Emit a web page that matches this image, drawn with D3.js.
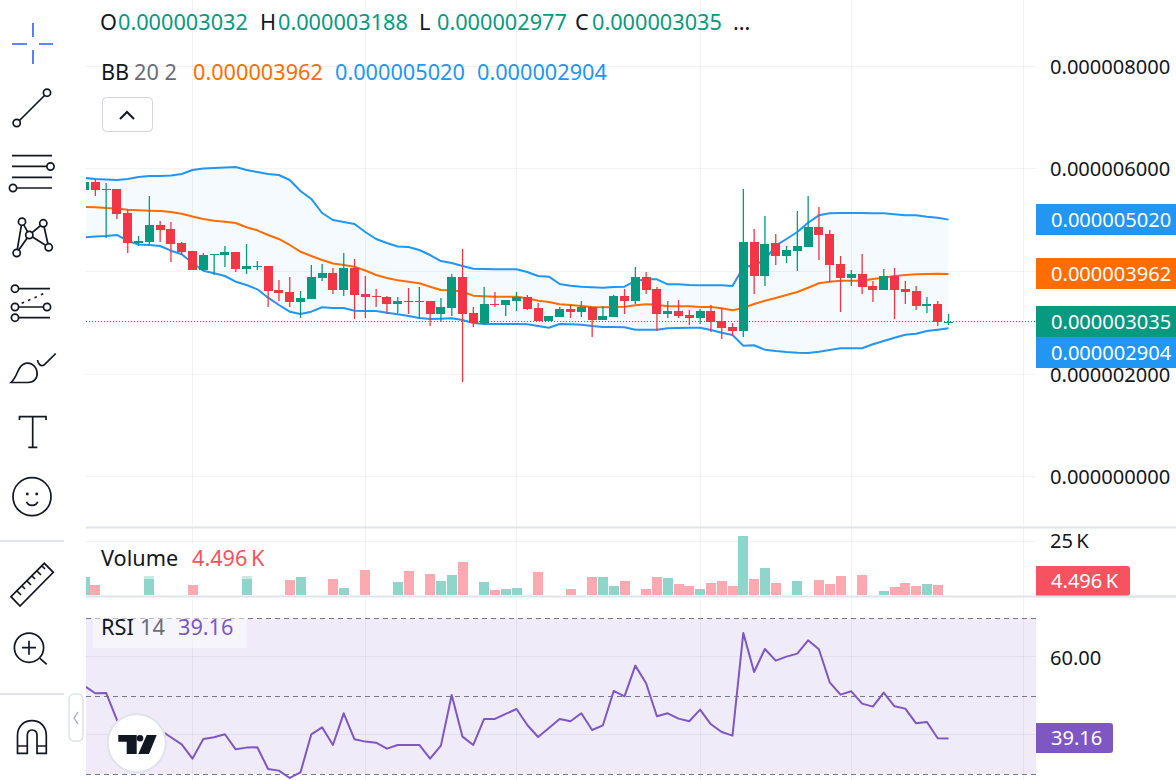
<!DOCTYPE html>
<html>
<head>
<meta charset="utf-8">
<title>Candlestick chart with Bollinger Bands, volume and RSI</title>
<script src="https://cdn.jsdelivr.net/npm/d3@7/dist/d3.min.js"></script>
<style>
  html, body { margin: 0; padding: 0; background: #fff; overflow: hidden; }
  svg { display: block; font-family: "Noto Sans", sans-serif; }
  .tool { fill: none; stroke: #131722; stroke-width: 1.7; }
  .tool-fill { fill: #fff; stroke: #131722; stroke-width: 1.7; }
</style>
</head>
<body>
<svg id="chart" width="1176" height="780"></svg>
<script>
// OHLC prices, in millionths of the quote unit
const opens = [5.597,5.753,5.597,5.616,5.149,4.565,4.584,4.915,4.837,4.565,
  4.409,4.039,4.331,4.331,4.390,4.058,4.097,4.117,3.649,3.610,
  3.416,3.474,3.883,3.981,3.649,4.078,3.572,3.533,3.513,3.377,
  3.435,3.416,3.435,3.182,3.299,3.903,3.202,3.007,3.377,3.357,
  3.435,3.513,3.299,3.046,3.124,3.280,3.221,3.319,3.065,3.124,
  3.533,3.435,3.903,3.669,3.182,3.241,3.163,3.104,3.241,3.046,
  2.929,2.851,4.584,3.922,4.565,4.312,4.409,4.487,4.876,4.740,
  4.156,3.883,3.961,3.727,3.649,3.922,3.669,3.630,3.338,3.377,
  3.032];
const highs = [5.792,5.811,5.733,5.616,5.227,4.701,5.480,4.993,4.974,4.584,
  4.409,4.370,4.351,4.506,4.390,4.545,4.214,4.117,3.844,3.903,
  3.630,4.136,4.156,4.078,4.370,4.253,3.922,3.669,3.533,3.513,
  3.689,3.708,3.435,3.494,3.961,4.448,3.319,3.708,3.610,3.455,
  3.610,3.552,3.396,3.143,3.319,3.357,3.435,3.319,3.338,3.552,
  3.669,4.097,4.000,3.708,3.435,3.455,3.260,3.280,3.357,3.299,
  3.007,5.616,4.837,5.091,4.740,4.506,5.188,5.480,5.266,4.818,
  4.312,4.039,4.351,3.825,4.058,4.078,3.825,3.727,3.513,3.435,
  3.188];
const lows = [5.558,5.480,4.662,5.032,4.370,4.506,4.545,4.584,4.195,4.331,
  4.039,4.020,3.942,4.097,4.000,3.961,4.039,3.319,3.435,3.319,
  3.104,3.474,3.825,3.572,3.533,3.085,3.104,3.319,3.182,3.202,
  3.182,3.104,2.948,3.026,3.143,1.858,2.929,2.968,3.319,3.143,
  3.241,3.260,3.046,3.046,3.124,3.104,3.124,2.734,3.065,3.124,
  3.182,3.377,3.572,2.851,3.104,3.104,2.968,2.987,2.832,2.695,
  2.754,2.734,3.572,3.727,4.136,4.175,4.020,4.487,4.234,3.805,
  3.221,3.727,3.572,3.416,3.649,3.085,3.377,3.260,3.202,2.948,
  2.977];
const closes = [5.753,5.597,5.616,5.130,4.565,4.604,4.915,4.818,4.545,4.390,
  4.039,4.331,4.351,4.390,4.058,4.117,4.117,3.630,3.591,3.416,
  3.494,3.903,3.981,3.649,4.078,3.552,3.513,3.513,3.377,3.435,
  3.416,3.435,3.182,3.319,3.903,3.182,3.007,3.377,3.357,3.455,
  3.513,3.280,3.046,3.143,3.280,3.221,3.319,3.065,3.143,3.533,
  3.435,3.903,3.649,3.182,3.241,3.143,3.104,3.241,3.026,2.909,
  2.851,4.584,3.922,4.545,4.312,4.429,4.506,4.876,4.721,4.136,
  3.883,3.961,3.708,3.649,3.922,3.649,3.610,3.338,3.377,3.026,
  3.035];

// Bollinger Bands (20, 2), same unit as the prices
const bbUpper = [5.831,5.811,5.801,5.792,5.811,5.850,5.870,5.870,5.879,5.909,
  5.986,6.016,6.025,6.035,6.045,5.986,5.947,5.909,5.889,5.792,
  5.577,5.422,5.149,5.013,4.974,4.935,4.779,4.643,4.565,4.497,
  4.487,4.429,4.331,4.214,4.175,4.117,4.064,4.058,4.053,4.053,
  4.053,4.000,3.922,3.909,3.766,3.733,3.714,3.702,3.694,3.708,
  3.714,3.825,3.858,3.858,3.760,3.760,3.747,3.741,3.741,3.741,
  3.727,4.092,4.131,4.234,4.512,4.643,4.779,4.960,5.104,5.143,
  5.149,5.149,5.149,5.143,5.143,5.124,5.104,5.104,5.077,5.057,
  5.020];
const bbBasis = [5.266,5.260,5.246,5.237,5.213,5.202,5.194,5.188,5.168,5.135,
  5.081,5.032,4.999,4.980,4.954,4.871,4.812,4.721,4.643,4.526,
  4.395,4.312,4.234,4.166,4.136,4.103,4.029,3.942,3.883,3.838,
  3.811,3.780,3.714,3.649,3.644,3.616,3.539,3.527,3.519,3.519,
  3.519,3.488,3.441,3.416,3.371,3.357,3.338,3.319,3.313,3.319,
  3.324,3.352,3.371,3.363,3.332,3.332,3.332,3.319,3.319,3.293,
  3.254,3.299,3.377,3.441,3.494,3.552,3.610,3.694,3.780,3.811,
  3.831,3.831,3.831,3.864,3.889,3.922,3.942,3.955,3.961,3.967,
  3.962];
const bbLower = [4.672,4.691,4.701,4.721,4.604,4.536,4.526,4.506,4.415,4.345,
  4.175,4.025,3.975,3.922,3.811,3.747,3.663,3.500,3.357,3.227,
  3.182,3.227,3.313,3.299,3.299,3.247,3.241,3.241,3.207,3.176,
  3.143,3.104,3.085,3.091,3.098,3.065,3.007,2.987,2.987,2.987,
  2.987,2.981,2.948,2.915,2.987,2.981,2.974,2.948,2.929,2.929,
  2.923,2.876,2.876,2.876,2.904,2.909,2.915,2.915,2.871,2.818,
  2.773,2.565,2.573,2.487,2.462,2.442,2.429,2.423,2.448,2.481,
  2.514,2.514,2.514,2.592,2.656,2.721,2.779,2.799,2.851,2.876,
  2.904];

// Traded volume, in thousands
const volumes = [8.4,4.7,0,0,0,0,8.9,0,0,0,
  4.7,0,0,0,0,8.9,0,0,0,7.0,
  8.4,0,0,7.5,3.3,0,11.7,0,0,6.1,
  11.2,0,9.8,6.5,9.3,15.4,0,6.1,2.3,2.8,
  3.3,0,10.7,0,0,2.8,0,8.4,8.4,4.2,
  6.5,0,2.8,8.4,7.9,5.1,4.2,2.8,5.6,6.5,
  4.2,27.6,7.5,12.6,5.6,0,6.5,0,7.0,5.1,
  8.9,0,9.3,0,1.9,3.7,5.6,4.2,5.1,4.496,
  0];

// RSI (14)
const rsi = [52.65,50.77,50.85,43.93,37.95,37.52,41.37,41.37,39.49,37.69,
  34.02,39.06,39.49,40.26,36.41,36.84,36.92,31.37,30.94,29.06,
  30.51,40.26,42.05,37.52,45.64,38.97,38.38,38.12,36.58,37.52,
  37.52,37.52,34.02,37.35,50.34,39.66,37.52,44.19,44.19,45.47,
  46.75,42.65,39.57,41.88,44.19,43.59,45.64,41.37,42.56,51.37,
  50.00,57.86,53.33,44.87,45.64,44.27,43.59,46.58,42.82,40.85,
  39.91,66.24,56.24,62.14,59.15,60.17,60.94,64.36,62.05,53.59,
  50.43,51.28,48.12,47.35,50.94,47.44,46.84,43.08,43.42,39.23,
  39.16];

const priceTicks = [8, 6, 4, 2, 0];
const priceLabelTicks = [8, 6, 2, 0];
const volumeTicks = [25];
const rsiTicks = [60, 40];
const rsiBands = [70, 50, 30];

const GREEN = "#089981", RED = "#f23645", BLUE = "#2196f3", ORANGE = "#ff6d00", PURPLE = "#7e57c2", INK = "#131722";
const AXIS_FONT = 20.1, LEGEND_FONT = 21.7;
const indices = d3.range(opens.length);
const priceFmt = v => d3.format(".9f")(v / 1e6);

// Scales shared by the three stacked panes
const x = d3.scaleLinear().domain([0, 80]).range([84.5, 948.5]);
const yPrice = d3.scaleLinear().domain([0, 8]).range([477.4, 66.6]);
const yVolume = d3.scaleLinear().domain([0, 25]).range([595, 541.5]);
const yRsi = d3.scaleLinear().domain([30, 70]).range([774.3, 618.3]);

const svg = d3.select("#chart");
svg.append("defs").append("clipPath").attr("id", "pane")
  .append("rect").attr("x", 86).attr("y", 0).attr("width", 950).attr("height", 780);

const paneL = 86, paneR = 1036;
const stage = svg.append("g").attr("clip-path", "url(#pane)");

// RSI band fill lies under the grid
stage.append("rect").attr("x", paneL).attr("width", paneR - paneL)
  .attr("y", yRsi(70)).attr("height", yRsi(30) - yRsi(70))
  .attr("fill", PURPLE).attr("fill-opacity", 0.12);

// Grid
const crisp = v => Math.round(v) - 0.5;
const grid = stage.append("g").attr("stroke", "#2a2e39").attr("stroke-opacity", 0.06).attr("stroke-width", 1);
grid.selectAll(".gv").data([192.5, 365.5, 516.5, 700.5, 851.5, 1023.5]).join("line")
  .attr("x1", d => d).attr("x2", d => d).attr("y1", 0).attr("y2", 780);
grid.selectAll(".gp").data(priceTicks).join("line")
  .attr("x1", paneL).attr("x2", paneR).attr("y1", d => crisp(yPrice(d))).attr("y2", d => crisp(yPrice(d)));
grid.selectAll(".gvol").data(volumeTicks).join("line")
  .attr("x1", paneL).attr("x2", paneR).attr("y1", d => crisp(yVolume(d))).attr("y2", d => crisp(yVolume(d)));
grid.selectAll(".grsi").data(rsiTicks).join("line")
  .attr("x1", paneL).attr("x2", paneR).attr("y1", d => crisp(yRsi(d))).attr("y2", d => crisp(yRsi(d)));

// Bollinger Bands
stage.append("path").datum(indices)
  .attr("fill", BLUE).attr("fill-opacity", 0.05)
  .attr("d", d3.area().x(i => x(i)).y0(i => yPrice(bbLower[i])).y1(i => yPrice(bbUpper[i])));
const priceLine = arr => d3.line().x(i => x(i)).y(i => yPrice(arr[i]));
[[bbUpper, BLUE], [bbLower, BLUE], [bbBasis, ORANGE]].forEach(([arr, color]) => {
  stage.append("path").datum(indices).attr("fill", "none").attr("stroke", color)
    .attr("stroke-width", 2).attr("stroke-linejoin", "round").attr("d", priceLine(arr));
});

// Last price line
stage.append("line").attr("x1", paneL).attr("x2", paneR)
  .attr("y1", Math.floor(yPrice(closes[80])) + 0.5).attr("y2", Math.floor(yPrice(closes[80])) + 0.5)
  .attr("stroke", GREEN).attr("stroke-width", 1).attr("stroke-dasharray", "1 2");

// Candles
const isUp = i => closes[i] >= opens[i];
stage.append("g").selectAll("rect").data(indices).join("rect")
  .attr("x", i => x(i) - 0.6).attr("width", 1.3)
  .attr("y", i => Math.round(yPrice(highs[i])))
  .attr("height", i => Math.max(1, Math.round(yPrice(lows[i])) - Math.round(yPrice(highs[i]))))
  .attr("fill", i => isUp(i) ? GREEN : RED);
stage.append("g").attr("shape-rendering", "crispEdges").selectAll("rect").data(indices).join("rect")
  .attr("x", i => Math.round(x(i) - 4.5)).attr("width", 9)
  .attr("y", i => Math.round(yPrice(Math.max(opens[i], closes[i]))))
  .attr("height", i => Math.max(1, Math.round(yPrice(Math.min(opens[i], closes[i]))) - Math.round(yPrice(Math.max(opens[i], closes[i])))))
  .attr("fill", i => isUp(i) ? GREEN : RED);

// Volume bars
const visible = indices.filter(i => volumes[i] > 0);
stage.append("g").attr("shape-rendering", "crispEdges").selectAll("rect").data(visible).join("rect")
  .attr("x", i => Math.round(x(i) - 5)).attr("width", 10)
  .attr("y", i => Math.round(yVolume(volumes[i])))
  .attr("height", i => yVolume(0) - Math.round(yVolume(volumes[i])))
  .attr("fill", i => isUp(i) ? "#8fd5c9" : "#fca9b2");

// RSI bands and line
stage.append("g").selectAll("line").data(rsiBands).join("line")
  .attr("x1", paneL).attr("x2", paneR)
  .attr("y1", d => Math.floor(yRsi(d)) + 0.5).attr("y2", d => Math.floor(yRsi(d)) + 0.5)
  .attr("stroke", "#787b86").attr("stroke-width", 1.2).attr("stroke-dasharray", "5 4");
stage.append("path").datum(indices).attr("fill", "none").attr("stroke", PURPLE)
  .attr("stroke-width", 2).attr("stroke-linejoin", "round")
  .attr("d", d3.line().x(i => x(i)).y(i => yRsi(rsi[i])));

// Pane separators
svg.selectAll(".sep").data([527.5, 596.5]).join("rect")
  .attr("x", paneL).attr("width", 1176 - paneL).attr("y", d => d - 1).attr("height", 2).attr("fill", "#e0e3eb");

// Price scale labels via d3 axes
function styleAxis(sel) {
  sel.select(".domain").remove();
  sel.selectAll("text").attr("fill", INK).attr("font-size", AXIS_FONT).attr("font-family", '"Noto Sans", sans-serif');
}
const axisX = 1050;
svg.append("g").attr("transform", `translate(${axisX},0)`)
  .call(d3.axisRight(yPrice).tickValues(priceLabelTicks).tickSize(0).tickPadding(0).tickFormat(priceFmt)).call(styleAxis);
svg.append("g").attr("transform", `translate(${axisX},-0.7)`)
  .call(d3.axisRight(yVolume).tickValues(volumeTicks).tickSize(0).tickPadding(0).tickFormat(d => d + "\u2009K")).call(styleAxis);
svg.append("g").attr("transform", `translate(${axisX},0.7)`)
  .call(d3.axisRight(yRsi).tickValues([60]).tickSize(0).tickPadding(0).tickFormat(d3.format(".2f"))).call(styleAxis);

// Value tags on the scale
const tags = [
  { y: 204, h: 31, w: 140, fill: BLUE, text: priceFmt(bbUpper[80]) },
  { y: 258, h: 31, w: 140, fill: ORANGE, text: priceFmt(bbBasis[80]) },
  { y: 306, h: 31, w: 140, fill: GREEN, text: priceFmt(closes[80]) },
  { y: 337, h: 31, w: 140, fill: BLUE, text: priceFmt(bbLower[80]) },
  { y: 566, h: 30, w: 94, r: 3, fill: "#f7525f", text: d3.format(".3f")(volumes[79]) + "\u2009K" },
  { y: 723, h: 30, w: 77, r: 3, fill: PURPLE, text: d3.format(".2f")(rsi[80]) }
];
tags.forEach(t => {
  const path = t.r
    ? `M1036,${t.y}h${t.w - t.r}a${t.r},${t.r} 0 0 1 ${t.r},${t.r}v${t.h - 2 * t.r}a${t.r},${t.r} 0 0 1 ${-t.r},${t.r}h${-(t.w - t.r)}z`
    : `M1036,${t.y}h${t.w}v${t.h}h${-t.w}z`;
  svg.append("path").attr("d", path).attr("fill", t.fill);
  svg.append("text").attr("x", 1051).attr("y", t.y + t.h / 2).attr("dy", "0.35em")
    .attr("fill", "#fff").attr("font-size", AXIS_FONT).text(t.text);
});
svg.append("rect").attr("x", 1036).attr("width", 140).attr("y", 595.5).attr("height", 2).attr("fill", "#e0e3eb");

// Legends
stage.append("rect").attr("x", 93).attr("y", 543).attr("width", 182).attr("height", 36).attr("fill", "#fff").attr("fill-opacity", 0.5);
stage.append("rect").attr("x", 93).attr("y", 618).attr("width", 154).attr("height", 30).attr("fill", "#fff").attr("fill-opacity", 0.5);

function label(px, py, str, color, size) {
  svg.append("text").attr("x", px).attr("y", py).attr("dy", "0.35em")
    .attr("fill", color).attr("font-size", size || LEGEND_FONT).text(str);
}
const ohlcLast = [["O", opens[80], 100, 118], ["H", highs[80], 260, 278], ["L", lows[80], 419, 437], ["C", closes[80], 575, 592]];
ohlcLast.forEach(([k, v, kx, vx]) => { label(kx, 22, k, INK); label(vx, 22, priceFmt(v), GREEN); });
label(733, 22, "...", INK);
label(101, 72, "BB", INK);
label(134, 72, "20 2", "#6a6d78");
label(193, 72, priceFmt(bbBasis[80]), ORANGE);
label(335, 72, priceFmt(bbUpper[80]), BLUE);
label(477, 72, priceFmt(bbLower[80]), BLUE);
label(101, 558, "Volume", INK);
label(192, 558, d3.format(".3f")(volumes[79]) + "\u2009K", "#f7525f");
label(101, 627, "RSI", INK);
label(140, 627, "14", "#6a6d78");
label(178, 627, d3.format(".2f")(rsi[80]), PURPLE);

// Collapse button under the legend
svg.append("rect").attr("x", 102.5).attr("y", 97.5).attr("width", 50).attr("height", 34).attr("rx", 4)
  .attr("fill", "#fff").attr("stroke", "#d1d4dc");
svg.append("path").attr("d", "M120,119L127,112L134,119").attr("fill", "none").attr("stroke", INK).attr("stroke-width", 2);

// Drawing toolbar
const tb = svg.append("g");
tb.selectAll(".div").data([541, 694]).join("rect").attr("x", 0).attr("width", 64).attr("y", d => d - 1).attr("height", 2).attr("fill", "#e0e3eb");
const tool = (d, cls) => tb.append("path").attr("class", cls || "tool").attr("d", d);
const knob = (cx, cy, r) => tb.append("circle").attr("class", "tool-fill").attr("cx", cx).attr("cy", cy).attr("r", r || 3.6);

tb.append("path").attr("fill", "none").attr("stroke", "#2962ff").attr("stroke-width", 1.6)
  .attr("d", "M12,44H27M39,44H53M33,23V37M33,50V64");

tool("M17,123L47,93"); knob(47, 92.7); knob(16.7, 123);

tool("M12,155.7H52M12,166.3H47M12,177.3H52M17,188H52"); knob(50.5, 166.5); knob(13, 188);

tool("M16.7,253L22,221.7L29.3,235L43.3,223.3L48.7,247.3L29.3,235L16.7,253");
[[22, 221.7], [43.3, 223.3], [29.3, 235], [48.7, 247.3], [16.7, 253]].forEach(p => knob(p[0], p[1]));

tool("M19,288.7H50M19,307H43M19,317.7H50");
tb.append("path").attr("d", "M21.7,303.3L46.7,292.3").attr("fill", "none").attr("stroke", INK).attr("stroke-width", 1.6).attr("stroke-dasharray", "2.5 4.5");
[[15, 288.7], [15, 307], [47, 307], [15, 317.7]].forEach(p => knob(p[0], p[1]));

tool("M11,382.5H28C34,382.5 38,378 37,372C36,365 29,361 23,364.5C17,368 18,376 11,382.5Z");
tool("M37.5,360C38,364 41,367 44,365L55.7,353.5");

tool("M19.5,420V416.7H46V420M32.7,416.7V447.3M28.3,447.3H37.3");

tb.append("circle").attr("class", "tool").attr("cx", 32).attr("cy", 496.7).attr("r", 19);
tb.append("circle").attr("cx", 27.3).attr("cy", 494).attr("r", 1.4).attr("fill", INK);
tb.append("circle").attr("cx", 36.7).attr("cy", 494).attr("r", 1.4).attr("fill", INK);
tool("M26.7,501.7C28,506.5 36,506.5 37.7,501.7");

tool("M11,596.7L44.3,563.3L53.3,572.3L20,606Z");
tool("M17,591L21,595M22,586L25,589M27,581L31,585M32,576L35,579M37,571L41,575M42,566L45,569");

tb.append("circle").attr("class", "tool").attr("cx", 29).attr("cy", 647.7).attr("r", 14.6);
tool("M22,647.7H36M29,640.7V654.7M40,658.3L46.7,664.3");

tool("M17.5,753.3V735.5C17.5,726 24,720.7 32,720.7C40,720.7 46.3,726 46.3,735.5V753.3H37V735.5C37,732 35,730 32,730C29,730 27.3,732 27.3,735.5V753.3ZM17.5,746H27.3M37,746H46.3");

// Pane collapse handle
svg.append("rect").attr("x", 69).attr("y", 694).attr("width", 14).attr("height", 47).attr("rx", 5)
  .attr("fill", "#fff").attr("stroke", "#e0e3eb").attr("stroke-width", 1.6);
svg.append("path").attr("d", "M78,712L74,718L78,724").attr("fill", "none").attr("stroke", "#b2b5be").attr("stroke-width", 1.4);

// Round brand badge
svg.append("circle").attr("cx", 136.7).attr("cy", 743.3).attr("r", 29).attr("fill", "#fff").attr("stroke", "#e0e3eb").attr("stroke-width", 2);
svg.append("path").attr("fill", INK).attr("d", "M118.3,735H136.7V754H126.7V741.7H118.3Z M146.7,735H156.7L149,754H138.3Z");
svg.append("circle").attr("cx", 140).attr("cy", 738.3).attr("r", 3.3).attr("fill", INK);
</script>
</body>
</html>
